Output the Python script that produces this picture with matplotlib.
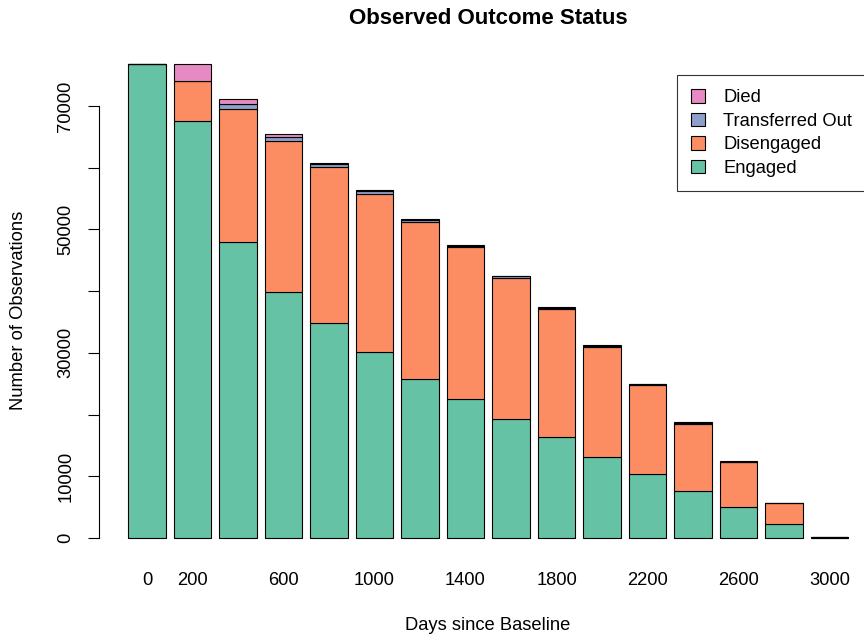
import numpy as np
import matplotlib
matplotlib.use('Agg')
import matplotlib.pyplot as plt
from matplotlib.patches import Patch

plt.rcParams['font.family'] = ['Liberation Sans', 'DejaVu Sans']

# Observation counts per time window (days since baseline)
days = [0, 200, 400, 600, 800, 1000, 1200, 1400, 1600, 1800,
        2000, 2200, 2400, 2600, 2800, 3000]
engaged = [76800, 67600, 47970, 39900, 34800, 30200, 25800, 22530,
           19240, 16320, 13130, 10370, 7670, 4980, 2220, 60]
disengaged = [0, 6470, 21510, 24490, 25280, 25550, 25460, 24580,
              22950, 20840, 17870, 14380, 10850, 7290, 3400, 30]
transferred = [0, 0, 810, 550, 450, 400, 280, 240,
               200, 180, 150, 130, 140, 100, 60, 0]
died = [0, 2730, 810, 490, 300, 250, 160, 140,
        120, 100, 80, 80, 90, 60, 40, 0]

x_labels = ['0', '200', '', '600', '', '1000', '', '1400', '', '1800',
            '', '2200', '', '2600', '', '3000']
y_ticks = [0, 10000, 20000, 30000, 40000, 50000, 60000, 70000]
y_labels = ['0', '10000', '', '30000', '', '50000', '', '70000']

series = [
    ('Engaged', engaged, '#66C2A5'),
    ('Disengaged', disengaged, '#FC8D62'),
    ('Transferred Out', transferred, '#8DA0CB'),
    ('Died', died, '#E78AC3'),
]

FS = 13.2
W, H = 864, 641
fig = plt.figure(figsize=(W / 100, H / 100), dpi=100)
# plot region runs past the right edge of the image, as in the reference
ax = fig.add_axes([99.2 / W, (H - 557) / H, (877.3 - 99.2) / W, 512 / H])

x = np.array(days, dtype=float)
bar_w = 200 / 1.2
bottom = np.zeros(len(days))
for name, vals, col in series:
    vals = np.array(vals, dtype=float)
    ax.bar(x, vals, width=bar_w, bottom=bottom, color=col,
           edgecolor='black', linewidth=0.8)
    bottom += vals

span = (x[-1] + bar_w / 2) - (x[0] - bar_w / 2)
ax.set_xlim(x[0] - bar_w / 2 - 0.04 * span, x[-1] + bar_w / 2 + 0.04 * span)
ymax = bottom.max()
ax.set_ylim(-0.04 * ymax, ymax * 1.04)

for side in ['top', 'right', 'bottom']:
    ax.spines[side].set_visible(False)
ax.spines['left'].set_bounds(0, 70000)
ax.spines['left'].set_linewidth(0.8)

ax.set_yticks(y_ticks)
ax.set_yticklabels(y_labels, rotation=90, va='center')
ax.tick_params(axis='y', length=8, width=0.8, pad=10, labelsize=FS)

ax.set_xticks(x)
ax.set_xticklabels(x_labels)
ax.tick_params(axis='x', length=0, pad=11, labelsize=FS)

fig.text(488 / W, 1 - 18 / H, 'Observed Outcome Status', ha='center',
         va='center', fontsize=16, fontweight='bold')
fig.text(488 / W, 1 - 625 / H, 'Days since Baseline', ha='center',
         va='center', fontsize=FS)
fig.text(19 / W, 1 - 310 / H, 'Number of Observations', ha='center',
         va='center', rotation=90, fontsize=FS)

handles = [Patch(facecolor=col, edgecolor='black', linewidth=0.8, label=name)
           for name, _, col in reversed(series)]
leg = fig.legend(handles=handles, loc='upper left',
                 bbox_to_anchor=(677 / W, 1 - 75 / H), fontsize=FS,
                 frameon=True, fancybox=False, edgecolor='black',
                 handlelength=0.75, handleheight=0.75, handletextpad=1.0,
                 labelspacing=0.35, borderpad=0.78, borderaxespad=0)
leg.get_frame().set_linewidth(0.8)

fig.savefig('out.png', dpi=100)
